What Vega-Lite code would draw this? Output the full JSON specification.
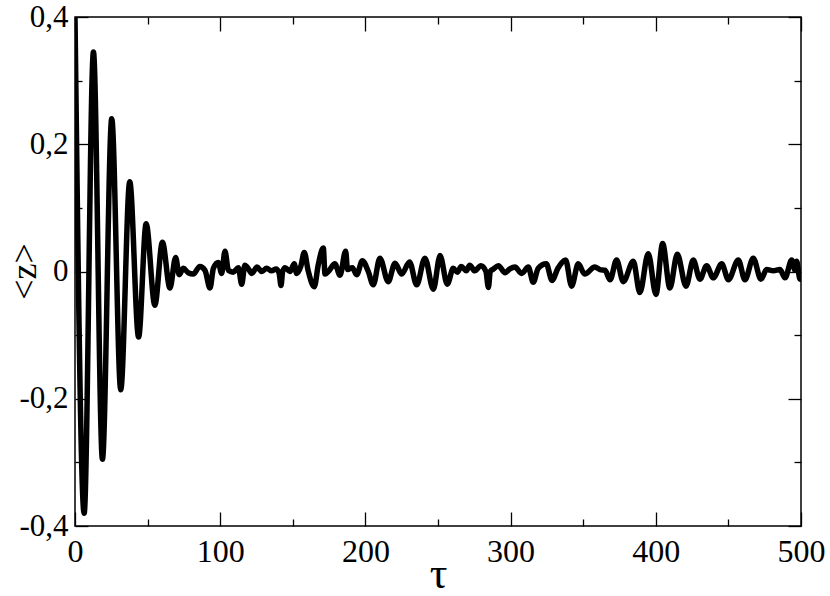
{
  "$schema": "https://vega.github.io/schema/vega-lite/v6.json",
  "width": 726,
  "height": 509,
  "autosize": {"type": "none"},
  "padding": {"left": 75, "top": 17, "right": 29, "bottom": 70},
  "background": "white",
  "config": {
    "view": {"stroke": "black", "strokeWidth": 1.5},
    "axis": {"labelFont": "serif", "titleFont": "serif", "titleFontWeight": "normal", "labelColor": "black", "titleColor": "black", "tickColor": "black", "tickWidth": 1.3, "domain": false, "grid": false, "labelFlush": false, "labelOverlap": false}
  },
  "data": {"values": [
    {"t": 0, "z": 0.40}, {"t": 6.3, "z": -0.38}, {"t": 12.7, "z": 0.345}, {"t": 18.9, "z": -0.295},
    {"t": 25.3, "z": 0.24}, {"t": 31.5, "z": -0.186}, {"t": 37.7, "z": 0.141}, {"t": 43.8, "z": -0.103},
    {"t": 49.0, "z": 0.075}, {"t": 55.0, "z": -0.053}, {"t": 60.2, "z": 0.046}, {"t": 65.4, "z": -0.026},
    {"t": 69.3, "z": 0.022}, {"t": 71.8, "z": -0.005}, {"t": 74.6, "z": 0.005}, {"t": 78, "z": -0.002},
    {"t": 81.5, "z": -0.004}, {"t": 86, "z": 0.008}, {"t": 89.5, "z": 0.002}, {"t": 93, "z": -0.026},
    {"t": 95.3, "z": 0.005}, {"t": 98.7, "z": 0.014}, {"t": 101, "z": -0.003}, {"t": 103.3, "z": 0.032},
    {"t": 105.6, "z": 0.002}, {"t": 109, "z": -0.001}, {"t": 112.5, "z": 0.006}, {"t": 114.8, "z": -0.02},
    {"t": 117, "z": 0.01}, {"t": 119.5, "z": 0.004}, {"t": 121.8, "z": -0.003}, {"t": 125.3, "z": 0.007},
    {"t": 128.7, "z": 0.0}, {"t": 132, "z": 0.005}, {"t": 135.4, "z": 0.001}, {"t": 138.5, "z": 0.004},
    {"t": 140.5, "z": -0.002}, {"t": 141.9, "z": -0.022}, {"t": 143, "z": 0.0}, {"t": 144.7, "z": 0.006},
    {"t": 148, "z": 0.0}, {"t": 151, "z": 0.012}, {"t": 152.6, "z": -0.003}, {"t": 155.5, "z": 0.008},
    {"t": 157.9, "z": 0.03}, {"t": 160.6, "z": 0.001}, {"t": 164.8, "z": -0.024}, {"t": 167.5, "z": 0.01},
    {"t": 171, "z": 0.037}, {"t": 172.2, "z": -0.004}, {"t": 174.5, "z": 0.0}, {"t": 179, "z": 0.012},
    {"t": 182.5, "z": -0.006}, {"t": 186.4, "z": 0.032}, {"t": 187.7, "z": 0.003}, {"t": 191, "z": 0.006},
    {"t": 194, "z": -0.005}, {"t": 197.9, "z": 0.017}, {"t": 202, "z": 0.0}, {"t": 205.4, "z": -0.021},
    {"t": 210, "z": 0.021}, {"t": 215.7, "z": -0.016}, {"t": 220.4, "z": 0.013}, {"t": 225, "z": -0.004},
    {"t": 230.4, "z": 0.015}, {"t": 235.3, "z": -0.021}, {"t": 241, "z": 0.021}, {"t": 246.8, "z": -0.028},
    {"t": 251.4, "z": 0.025}, {"t": 256.4, "z": -0.02}, {"t": 260.5, "z": 0.005}, {"t": 263.3, "z": -0.001},
    {"t": 266, "z": 0.008}, {"t": 269.5, "z": 0.001}, {"t": 271.8, "z": 0.01}, {"t": 275.3, "z": 0.001},
    {"t": 279.5, "z": 0.009}, {"t": 283, "z": 0.0}, {"t": 284.7, "z": -0.025}, {"t": 286, "z": 0.0},
    {"t": 288.2, "z": 0.004}, {"t": 291.6, "z": 0.009}, {"t": 296.2, "z": -0.002}, {"t": 299.5, "z": 0.004},
    {"t": 303, "z": 0.007}, {"t": 307.6, "z": -0.003}, {"t": 312.2, "z": 0.007}, {"t": 315.6, "z": -0.017},
    {"t": 319, "z": 0.005}, {"t": 324.6, "z": 0.012}, {"t": 328.5, "z": -0.014}, {"t": 332.6, "z": 0.005},
    {"t": 337.9, "z": 0.018}, {"t": 342, "z": -0.023}, {"t": 346.6, "z": 0.012}, {"t": 351, "z": -0.004},
    {"t": 358, "z": 0.007}, {"t": 361.5, "z": 0.003}, {"t": 365, "z": 0.002}, {"t": 368.5, "z": -0.013},
    {"t": 373, "z": 0.018}, {"t": 377.6, "z": -0.016}, {"t": 384.5, "z": 0.016}, {"t": 389, "z": -0.033},
    {"t": 394.8, "z": 0.028}, {"t": 400.1, "z": -0.036}, {"t": 404.7, "z": 0.044}, {"t": 409.7, "z": -0.026},
    {"t": 414.8, "z": 0.027}, {"t": 420.8, "z": -0.023}, {"t": 425.8, "z": 0.018}, {"t": 430.4, "z": -0.012},
    {"t": 435, "z": 0.009}, {"t": 439.6, "z": -0.01}, {"t": 445.4, "z": 0.012}, {"t": 450, "z": -0.013},
    {"t": 456.8, "z": 0.018}, {"t": 461.4, "z": -0.013}, {"t": 467.1, "z": 0.021}, {"t": 472.4, "z": -0.012},
    {"t": 476.3, "z": 0.003}, {"t": 480.9, "z": 0.001}, {"t": 485.5, "z": 0.003}, {"t": 489, "z": -0.01},
    {"t": 493.6, "z": 0.018}, {"t": 495.9, "z": 0.002}, {"t": 497, "z": 0.016}, {"t": 499.3, "z": -0.012},
    {"t": 500, "z": -0.012}
  ]},
  "layer": [
    {
      "mark": {"type": "line", "color": "black", "strokeWidth": 5.5, "interpolate": "monotone", "clip": true},
      "encoding": {
        "x": {"field": "t", "type": "quantitative", "scale": {"domain": [0, 500], "nice": false, "zero": false},
          "axis": {"orient": "bottom", "values": [0, 50, 100, 150, 200, 250, 300, 350, 400, 450, 500],
            "labelExpr": "datum.value % 100 === 0 ? datum.label : ''",
            "tickSize": {"condition": {"test": "datum.value % 100 === 0", "value": -14}, "value": -7},
            "labelFontSize": 32, "labelPadding": 24, "title": "τ", "titleFontSize": 44,
            "titleX": 363, "titleY": 61, "titleBaseline": "alphabetic", "titleAnchor": null}},
        "y": {"field": "z", "type": "quantitative", "scale": {"domain": [-0.4, 0.4], "nice": false, "zero": false},
          "axis": {"orient": "left", "values": [-0.4, -0.3, -0.2, -0.1, 0, 0.1, 0.2, 0.3, 0.4],
            "labelExpr": "abs(round(datum.value*10)) % 2 != 0 ? '' : (datum.value == 0 ? '0' : (datum.value < 0 ? '-' : '') + replace(format(abs(datum.value), '.1f'), '.', ','))",
            "tickSize": {"condition": {"test": "abs(round(datum.value*10)) % 2 == 0", "value": -13}, "value": -7},
            "labelFontSize": 31, "labelPadding": 20, "title": "<z>", "titleFontSize": 36,
            "titleX": -51, "titleY": 254, "titleBaseline": "middle", "titleAngle": -90}}
      }
    },
    {
      "mark": {"type": "line", "strokeOpacity": 0},
      "encoding": {
        "x": {"field": "t", "type": "quantitative",
          "axis": {"orient": "top", "values": [0, 50, 100, 150, 200, 250, 300, 350, 400, 450, 500], "labels": false, "title": null,
            "tickSize": {"condition": {"test": "datum.value % 100 === 0", "value": -14}, "value": -7}}},
        "y": {"field": "z", "type": "quantitative",
          "axis": {"orient": "right", "values": [-0.4, -0.3, -0.2, -0.1, 0, 0.1, 0.2, 0.3, 0.4], "labels": false, "title": null,
            "tickSize": {"condition": {"test": "abs(round(datum.value*10)) % 2 == 0", "value": -13}, "value": -7}}}
      }
    }
  ],
  "resolve": {"axis": {"x": "independent", "y": "independent"}}
}
